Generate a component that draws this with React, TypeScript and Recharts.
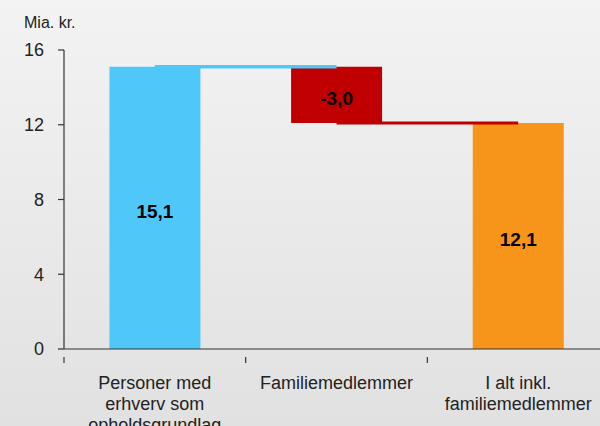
import React from "react"
import { ComposedChart, Bar, Line, XAxis, YAxis, Cell, LabelList } from "recharts"

const categories = ["Personer med\nerhverv som\nopholdsgrundlag", "Familiemedlemmer", "I alt inkl.\nfamiliemedlemmer"]
const baseValues = [0, 12.1, 0]
const barValues = [15.1, 3.0, 12.1]
const barLabels = ["15,1", "-3,0", "12,1"]
const barColors = ["#4fc8f9", "#c00000", "#f7941a"]
const blueConnector = [15.1, 15.1, null]
const redConnector = [null, 12.1, 12.1]
const yTicks = [0, 4, 8, 12, 16]

const data = categories.map((name, i) => ({
  name,
  base: baseValues[i],
  value: barValues[i],
  label: barLabels[i],
  blue: blueConnector[i],
  red: redConnector[i],
}))

const FONT = "'Liberation Sans', Arial, sans-serif"

const CategoryTick = (props: any) => {
  const { x, y, payload } = props
  const lines = String(payload.value).split("\n")
  const half = payload.offset || 90.75
  return (
    <g>
      <line x1={x - half} x2={x - half} y1={y} y2={y + 6} stroke="#333" strokeWidth={1.2} />
      <text x={x} y={y + 32} textAnchor="middle" fill="#222" fontSize={18} fontFamily={FONT}>
        {lines.map((l, i) => (
          <tspan key={i} x={x} dy={i === 0 ? 0 : 21}>
            {l}
          </tspan>
        ))}
      </text>
    </g>
  )
}

export default function App() {
  return (
    <div
      style={{
        position: "fixed",
        left: 0,
        top: 0,
        width: 600,
        height: 426,
        overflow: "hidden",
        background: "linear-gradient(#f3f3f3, #e1e1e1)",
        fontFamily: FONT,
      }}
    >
      <div style={{ position: "absolute", left: 24, top: 14, fontSize: 16, color: "#222" }}>Mia. kr.</div>
      <ComposedChart
        width={620}
        height={426}
        data={data}
        margin={{ top: 50, right: 11, left: 0, bottom: 0 }}
        barCategoryGap="25%"
      >
        <XAxis
          dataKey="name"
          interval={0}
          height={77}
          tickLine={false}
          axisLine={{ stroke: "#333", strokeWidth: 1.2 }}
          tick={<CategoryTick />}
        />
        <YAxis
          width={64}
          domain={[0, 16]}
          ticks={yTicks}
          interval={0}
          tickSize={6}
          tickMargin={14}
          axisLine={{ stroke: "#333", strokeWidth: 1.2 }}
          tickLine={{ stroke: "#333", strokeWidth: 1.2 }}
          tick={{ fill: "#222", fontSize: 18, fontFamily: FONT }}
        />
        <Bar dataKey="base" stackId="w" fill="transparent" isAnimationActive={false} />
        <Bar dataKey="value" stackId="w" isAnimationActive={false}>
          {data.map((d, i) => (
            <Cell key={i} fill={barColors[i]} />
          ))}
          <LabelList
            dataKey="label"
            position="center"
            fill="#000"
            fontSize={19}
            fontWeight="bold"
            fontFamily={FONT}
            dy={3}
          />
        </Bar>
        <Line
          dataKey="blue"
          stroke="#4fc8f9"
          strokeWidth={3.5}
          dot={false}
          activeDot={false}
          connectNulls={false}
          isAnimationActive={false}
        />
        <Line
          dataKey="red"
          stroke="#c00000"
          strokeWidth={3}
          dot={false}
          activeDot={false}
          connectNulls={false}
          isAnimationActive={false}
        />
      </ComposedChart>
    </div>
  )
}
